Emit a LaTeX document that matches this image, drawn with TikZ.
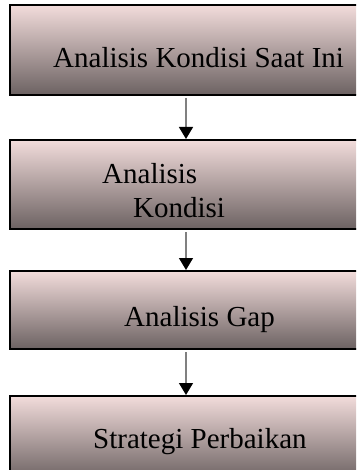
\documentclass[tikz,border=0pt]{standalone}
\usepackage{fontspec}
\setmainfont{Liberation Serif}
\usetikzlibrary{arrows.meta}
\definecolor{boxtop}{HTML}{F2DCDB}
\definecolor{boxmid}{HTML}{C6B2B1}
\definecolor{boxbot}{HTML}{6C6262}
\begin{document}
\begin{tikzpicture}[x=1pt, y=-1pt,
    box/.style={draw=black, line width=2pt, top color=boxtop, middle color=boxmid,
      bottom color=boxbot, minimum width=352pt, inner sep=0pt},
    label/.style={anchor=base west, inner sep=0pt, font=\fontsize{29}{34}\selectfont},
    flow/.style={draw=gray, line width=1.3pt, shorten <=2pt,
      -{Triangle[width=14pt, length=12pt, color=black]}}]
      \useasboundingbox (0, 0) rectangle (356, 470);
      \clip (0, 0) rectangle (356, 470);
      \node [box, minimum height=90pt] (b1) at (186, 50) {};
      \node [box, minimum height=89pt] (b2) at (186, 184.5) {};
      \node [box, minimum height=78pt] (b3) at (186, 310) {};
      \node [box, minimum height=84pt] (b4) at (186, 438) {};
      \node [label] (t1) at (53, 68) {Analisis Kondisi Saat Ini};
      \node [label] (t2a) at (102, 183) {Analisis};
      \node [label] (t2b) at (133, 217) {Kondisi};
      \node [label] (t3) at (124, 326) {Analisis Gap};
      \node [label] (t4) at (93, 448) {Strategi Perbaikan};
      \draw [flow] (b1.south) -- (b2.north);
      \draw [flow] (b2.south) -- (b3.north);
      \draw [flow] (b3.south) -- (b4.north);
    \end{tikzpicture}
\end{document}
